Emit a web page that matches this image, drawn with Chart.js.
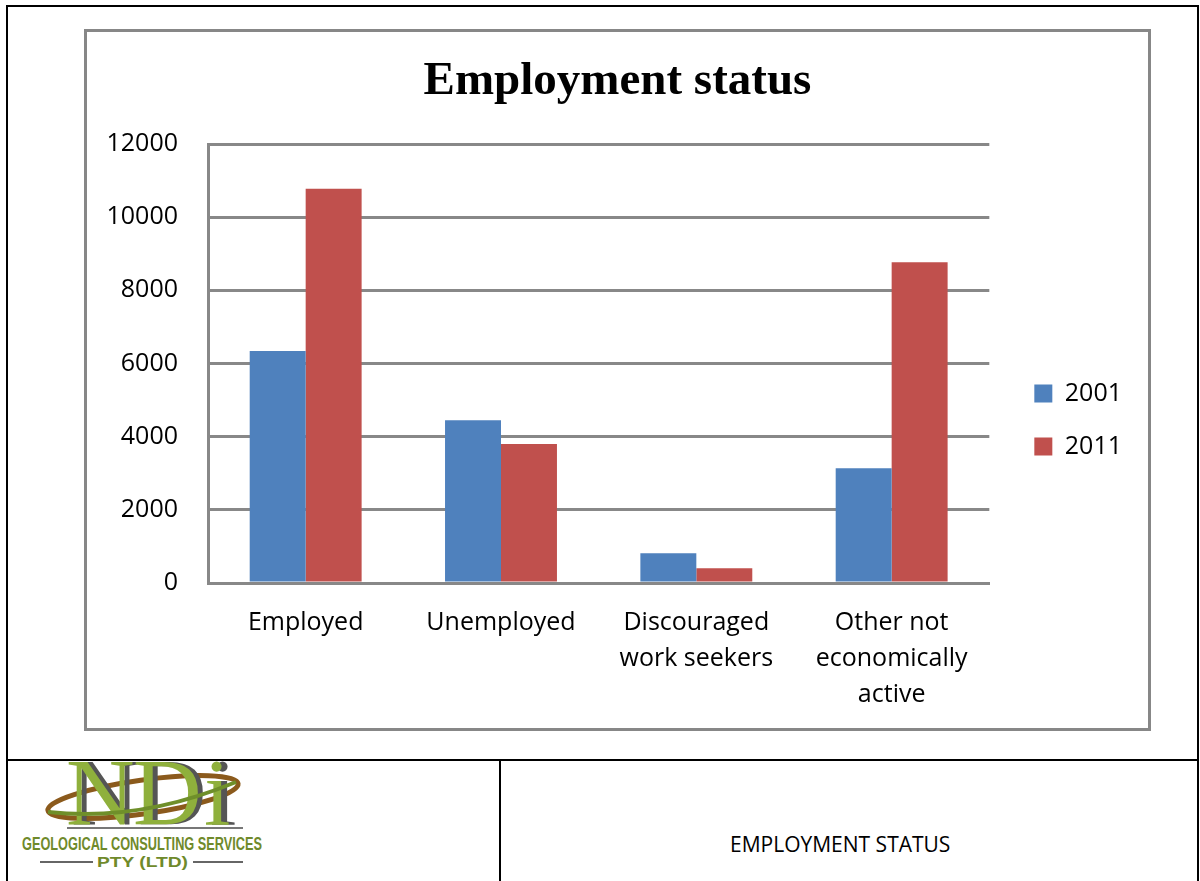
<!doctype html>
<html lang="en">
<head>
  <meta charset="utf-8">
  <title>Employment status</title>
  <style>
    body { margin: 0; background: #fff; width: 1200px; height: 881px; position: relative; overflow: hidden; font-family: "Open Sans", sans-serif; }
    .frame { position: absolute; left: 6px; top: 5px; width: 1193px; height: 900px; box-sizing: border-box;
             border-top: 2px solid #000; border-left: 2px solid #000; border-right: 2px solid #000; }
    .hline { position: absolute; left: 6px; top: 759px; width: 1193px; height: 2px; background: #000; }
    .vline { position: absolute; left: 499px; top: 760px; width: 2px; height: 130px; background: #000; }
    .chartbox { position: absolute; left: 84px; top: 29px; width: 1067px; height: 702px; box-sizing: border-box;
                border: 3px solid #878787; background: #fff; }
    #chart { position: absolute; left: 87px; top: 32px; }
    .caption { position: absolute; left: 730px; top: 830px; font-size: 21px; color: #000; white-space: nowrap; }
    .logo { position: absolute; left: 0; top: 760px; }
  </style>
</head>
<body>
  <div class="frame"></div>
  <div class="hline"></div>
  <div class="vline"></div>
  <div class="chartbox"></div>
  <canvas id="chart" width="1061" height="696"></canvas>

  <svg class="logo" width="300" height="121" viewBox="0 0 300 121">
    <ellipse cx="143" cy="37" rx="96" ry="17" transform="rotate(-8 143 37)" fill="none" stroke="#8b5a1c" stroke-width="5"/>
    <text x="71" y="65" font-family="Liberation Serif" font-size="95" fill="#555">N</text>
    <text x="138" y="65" font-family="Liberation Serif" font-size="95" fill="#555">D</text>
    <text x="210" y="65" font-family="Liberation Serif" font-size="95" fill="#555">i</text>
    <text x="66" y="65" font-family="Liberation Serif" font-size="95" fill="#8fb03c">N</text>
    <text x="133" y="65" font-family="Liberation Serif" font-size="95" fill="#8fb03c">D</text>
    <text x="204" y="65" font-family="Liberation Serif" font-size="95" fill="#8fb03c">i</text>
    <path d="M48 52 Q 140 62 236 22" fill="none" stroke="#6f8f2a" stroke-width="4"/>
    <line x1="67" y1="68" x2="243" y2="68" stroke="#777" stroke-width="2"/>
    <text x="22" y="90" font-family="Liberation Sans" font-weight="bold" font-size="18.5" fill="#6f8a2b"
          textLength="240" lengthAdjust="spacingAndGlyphs">GEOLOGICAL CONSULTING SERVICES</text>
    <line x1="40" y1="102" x2="93" y2="102" stroke="#666" stroke-width="2"/>
    <text x="97" y="107" font-family="Liberation Sans" font-weight="bold" font-size="14" fill="#6f8a2b"
          textLength="91" lengthAdjust="spacingAndGlyphs">PTY (LTD)</text>
    <line x1="193" y1="102" x2="243" y2="102" stroke="#666" stroke-width="2"/>
  </svg>

  <div class="caption">EMPLOYMENT STATUS</div>

  <script src="https://cdn.jsdelivr.net/npm/chart.js"></script>
  <script>
  const categories = ['Employed', 'Unemployed', ['Discouraged', 'work seekers'], ['Other not', 'economically', 'active']];
  const seriesNames = ['2001', '2011'];
  const values2001 = [6340, 4450, 810, 3135];
  const values2011 = [10780, 3800, 400, 8770];
  const yMin = 0;
  const yMax = 12000;
  const yStep = 2000;

  const font = '"Open Sans"';
  const gridColor = '#888888';

  const ctx = document.getElementById('chart').getContext('2d');

  const chart = new Chart(ctx, {
    type: 'bar',
    data: {
      labels: categories,
      datasets: [
        {
          label: seriesNames[0],
          data: values2001,
          backgroundColor: '#4F81BD',
          categoryPercentage: 0.573,
          barPercentage: 1,
        },
        {
          label: seriesNames[1],
          data: values2011,
          backgroundColor: '#C0504D',
          categoryPercentage: 0.573,
          barPercentage: 1,
        },
      ],
    },
    options: {
      responsive: false,
      animation: false,
      devicePixelRatio: 1,
      // equal side padding keeps the title centred on the box
      layout: { padding: { left: 16, right: 16, top: 0, bottom: 0 } },
      plugins: {
        title: {
          display: true,
          text: 'Employment status',
          color: '#000',
          font: { family: '"Liberation Serif"', size: 47, weight: 'bold', lineHeight: 1.2 },
          padding: { top: 21.8, bottom: 33.8 },
        },
        legend: {
          position: 'right',
          labels: {
            boxWidth: 18,
            boxHeight: 18,
            padding: 28,
            color: '#000',
            font: { family: font, size: 25 },
          },
          // empty title only pushes the entries down
          title: { display: true, text: '', font: { size: 10, lineHeight: 1.2 }, padding: { top: 0, bottom: 68 } },
        },
        tooltip: { enabled: false },
      },
      scales: {
        x: {
          grid: { display: false, drawTicks: false },
          border: { display: true, color: gridColor, width: 3 },
          ticks: {
            color: '#000',
            padding: 22,
            autoSkip: false,
            maxRotation: 0,
            font: { family: font, size: 25, lineHeight: 1.43 },
          },
          afterFit(s) { s.height = 145; },
        },
        y: {
          min: yMin,
          max: yMax,
          ticks: {
            stepSize: yStep,
            padding: 30,
            color: '#000',
            font: { family: font, size: 25 },
            callback: v => String(v),
          },
          grid: { color: gridColor, lineWidth: 3, drawTicks: false },
          border: { color: gridColor, width: 3 },
          afterFit(s) { s.width = 105; },
        },
        // spacer between the plot and the legend
        y2: {
          type: 'linear',
          position: 'right',
          grid: { display: false, drawTicks: false },
          border: { display: false },
          ticks: { display: false },
          afterFit(s) { s.width = 17; },
        },
      },
    },
  });
  </script>
</body>
</html>
